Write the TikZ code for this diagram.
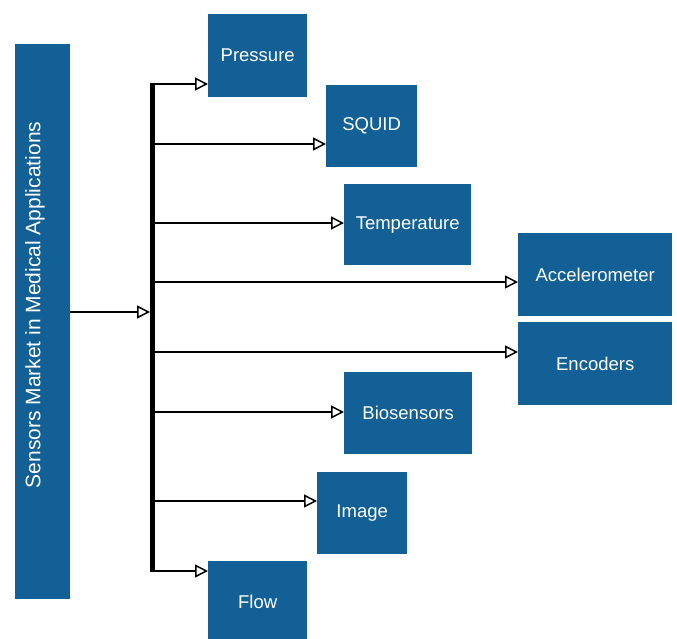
\documentclass[tikz,border=0pt]{standalone}
\usepackage{fontspec}
\setmainfont{Liberation Sans}
\usetikzlibrary{arrows.meta}
\definecolor{boxblue}{RGB}{18, 96, 150}

\begin{document}
\begin{tikzpicture}[x=1pt, y=-1pt,
  sensor/.style={fill=boxblue, text=white, anchor=north west, inner sep=0pt,
    font=\fontsize{18.5}{22}\selectfont},
  feed/.style={line width=1.5pt, -{Triangle[open, length=13pt, width=13pt, fill=white]}}]

  \useasboundingbox (0, 0) rectangle (677, 639);

  \node[fill=boxblue, anchor=north west, minimum width=55pt, minimum height=555pt,
    inner sep=0pt] (market) at (15, 44) {};
  \node[rotate=90, text=white, font=\fontsize{21}{25}\selectfont] (marketlabel)
    at (35, 305) {Sensors Market in Medical Applications};

  \node[sensor, minimum width=99pt, minimum height=83pt] (pressure) at (208, 14) {Pressure};
  \node[sensor, minimum width=91pt, minimum height=82pt] (squid) at (326, 85) {SQUID};
  \node[sensor, minimum width=127pt, minimum height=81pt] (temperature) at (344, 184) {Temperature};
  \node[sensor, minimum width=154pt, minimum height=83pt] (accel) at (518, 233) {Accelerometer};
  \node[sensor, minimum width=154pt, minimum height=83pt] (encoders) at (518, 322) {Encoders};
  \node[sensor, minimum width=128pt, minimum height=82pt] (bio) at (344, 372) {Biosensors};
  \node[sensor, minimum width=90pt, minimum height=82pt] (image) at (317, 472) {Image};
  \node[sensor, minimum width=99pt, minimum height=82pt] (flow) at (208, 561) {Flow};

  % bus
  \coordinate (bustop) at (152.5, 83);
  \coordinate (busbot) at (152.5, 572);
  \draw[line width=5pt] (bustop) -- (busbot);

  \coordinate (hub) at (150, 312);
  \draw[feed] (market.east |- hub) -- (hub);

  \foreach \target/\y in {pressure/84, squid/144, temperature/223, accel/282,
      encoders/352, bio/412, image/501, flow/571} {
    \coordinate (tap) at (152.5, \y);
    \draw[feed] (tap) -- (tap -| \target.west);
  }

\end{tikzpicture}
\end{document}
